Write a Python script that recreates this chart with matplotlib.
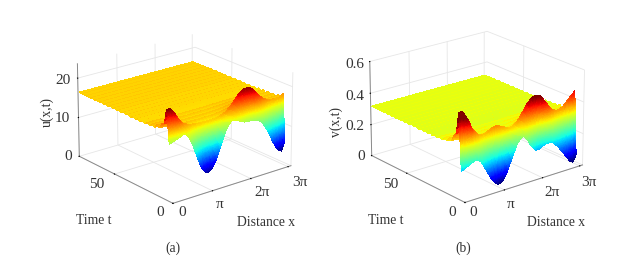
import numpy as np
import matplotlib
matplotlib.use('Agg')
import matplotlib.pyplot as plt

plt.rcParams['font.family'] = ['Liberation Serif', 'DejaVu Serif']
plt.rcParams['font.size'] = 11
plt.rcParams['grid.color'] = '#e6e6e6'
plt.rcParams['grid.linewidth'] = 0.6
plt.rcParams['axes.linewidth'] = 0.6

# x samples in units of pi, 1/12 apart
x_pi = np.arange(37) / 12

# panel a, front row (t first) and second row
u_first = [14.0, 14.3, 14.6, 14.9, 15.3, 15.3, 14.2, 12.2, 9.8, 7.4, 5.5, 4.5,
           4.2, 4.8, 6.2, 8.2, 10.6, 12.8, 14.4, 15.3, 15.2, 14.8, 14.4, 14.0,
           13.9, 13.9, 13.8, 13.5, 13.0, 12.0, 10.6, 8.9, 7.0, 5.4, 4.2, 3.8, 6.0]
u_second = [21.8, 21.7, 20.8, 19.4, 18.0, 17.2, 16.8, 16.5, 16.4, 16.3, 16.2, 16.2,
            16.2, 16.2, 16.2, 16.3, 16.5, 16.8, 17.2, 17.9, 18.8, 19.8, 20.8, 21.3,
            21.5, 21.4, 20.9, 20.0, 19.0, 18.1, 17.5, 17.1, 16.9, 16.8, 16.8, 16.9, 17.4]
u_flat = 16.5

# panel b
v_first = [0.18, 0.19, 0.20, 0.21, 0.22, 0.22, 0.20, 0.16, 0.12, 0.08, 0.05, 0.03,
           0.03, 0.05, 0.09, 0.14, 0.19, 0.24, 0.27, 0.28, 0.26, 0.22, 0.19, 0.17,
           0.17, 0.18, 0.19, 0.19, 0.19, 0.17, 0.15, 0.12, 0.09, 0.06, 0.03, 0.02, 0.06]
v_second = [0.52, 0.52, 0.49, 0.45, 0.40, 0.37, 0.35, 0.345, 0.35, 0.36, 0.37, 0.375,
            0.37, 0.36, 0.35, 0.34, 0.34, 0.35, 0.37, 0.40, 0.43, 0.46, 0.48, 0.49,
            0.49, 0.48, 0.45, 0.42, 0.39, 0.37, 0.36, 0.36, 0.37, 0.39, 0.41, 0.43, 0.45]
v_flat = 0.32

# times of the rows
t_rows = [3, 5, 7, 9, 11, 13, 15, 17, 19, 21, 23, 25, 27, 29, 31, 33, 35, 37, 39, 41,
          43, 45, 47, 49, 51, 53, 55, 57, 59, 61, 63, 65, 67, 69, 71, 73, 75, 77, 79, 81]
# how much of the second row is left, row by row after the first
relax = [1.0, 0.45, 0.25, 0.15, 0.10, 0.07, 0.05, 0.03, 0.02, 0.015, 0.01, 0.005, 0.0, 0.0,
         0.0, 0.0, 0.0, 0.0, 0.0, 0.0, 0.0, 0.0, 0.0, 0.0, 0.0, 0.0, 0.0, 0.0, 0.0, 0.0,
         0.0, 0.0, 0.0, 0.0, 0.0, 0.0, 0.0, 0.0, 0.0]
# zigzag of the rows, share of the z range
ripple = [0.0, 0.018, -0.018, 0.016, -0.016, 0.015, -0.015, 0.014, -0.014, 0.012, -0.012, 0.010, -0.010,
          0.008, -0.008, 0.007, -0.007, 0.006, -0.006, 0.006, -0.006, 0.005, -0.005, 0.005, -0.005,
          0.005, -0.005, 0.004, -0.004, 0.004, -0.004, 0.004, -0.004, 0.004, -0.004, 0.003, -0.003,
          0.003, -0.003, 0.003]

x_ticks = [0, 1, 2, 3]
t_ticks = [0, 50]
u_ticks = [0, 10, 20]
v_ticks = [0, 0.2, 0.4, 0.6]


def make_rows(first, second, flat, span):
    first = np.array(first)
    second = np.array(second)
    rows = [first]
    for i, r in enumerate(relax):
        rows.append(flat + r * (second - flat) + ripple[i + 1] * span)
    return np.array(rows)


def refine(rows):
    # same job as shading interp in the original plot
    t_fine = []
    for i in range(len(t_rows) - 1):
        n = 60 if i == 0 else (4 if i < 10 else 1)
        t_fine.extend(np.linspace(t_rows[i], t_rows[i + 1], n, endpoint=False))
    t_fine.append(t_rows[-1])
    t_fine = np.array(t_fine)
    x_fine = np.linspace(0, 3, 145)
    by_t = np.array([np.interp(t_fine, t_rows, rows[:, j]) for j in range(rows.shape[1])]).T
    z = np.array([np.interp(x_fine, x_pi, row) for row in by_t])
    return x_fine, t_fine, z


def draw(rect, first, second, flat, vmin, vmax, zlim, zticks, aspect):
    ax = fig.add_axes([rect[0] / 620, rect[1] / 267, 230 / 620, 230 / 267], projection='3d')
    ax.set_proj_type('persp', focal_length=1.6)
    rows = make_rows(first, second, flat, zlim[1])
    xf, tf, z = refine(rows)
    X, T = np.meshgrid(xf, tf)
    norm = plt.Normalize(vmin, vmax)
    colors = plt.cm.jet(norm(z))
    ax.plot_surface(X, T, z, facecolors=colors, rstride=1, cstride=1, shade=False,
                    linewidth=0, antialiased=False)
    ax.set_xlim(0, 3.08, view_margin=0)
    ax.set_ylim(0, 82, view_margin=0)
    ax.set_zlim(zlim[0], zlim[1], view_margin=0)
    ax.set_box_aspect(aspect)
    ax.view_init(elev=21, azim=-128.7)
    # tick text goes on by hand below, mplot3d puts it too far out
    ax.set_xticks(x_ticks)
    ax.set_xticklabels([])
    ax.set_yticks(t_ticks)
    ax.set_yticklabels([])
    ax.set_zticks(zticks)
    ax.set_zticklabels([])
    for a in (ax.xaxis, ax.yaxis, ax.zaxis):
        a.set_pane_color((1, 1, 1, 0))
        a.pane.set_edgecolor('#e2e2e2')
        a.line.set_color('#8a8a8a')
        a.line.set_linewidth(0.7)
        a._axinfo['tick']['inward_factor'] = 0.02
        a._axinfo['tick']['outward_factor'] = 0.0
        a._axinfo['tick']['color'] = '#9a9a9a'
    ax.patch.set_alpha(0)
    return ax


fig = plt.figure(figsize=(6.2, 2.67), dpi=100)
draw((66.4, 34), u_first, u_second, u_flat, 3.8, 22.2, (0, 23.6), u_ticks, (455, 461, 300))
draw((358.4, 35.5), v_first, v_second, v_flat, 0.03, 0.49, (0, 0.6), v_ticks, (455, 461, 306))


def label(px, py, s, size=9.8, **kw):
    fig.text(px / 620, 1 - py / 267, s, ha='center', va='center', color='#333333', fontsize=size, **kw)


for px, py, s in [(63, 80, '20'), (62, 118, '10'), (68, 157, '0'), (97, 185, '50'), (160, 212, '0'),
                  (182, 213, '0'), (220, 204, 'π'), (262, 193, '2π'), (300, 183, '3π'),
                  (355, 64, '0.6'), (355, 96, '0.4'), (355, 127, '0.2'), (361, 157, '0'), (391, 185, '50'),
                  (452, 212, '0'), (473, 213, '0'), (511, 204, 'π'), (552, 193, '2π'), (589, 183, '3π')]:
    label(px, py, s, size=11)

label(94, 220, 'Time t')
label(266, 222, 'Distance x')
label(173, 248, '(a)')
label(47, 112, 'u(x,t)', rotation=90)
label(386, 220, 'Time t')
label(556, 222, 'Distance x')
label(463, 248, '(b)')
label(336, 122, 'v(x,t)', rotation=90)

fig.savefig('out.png', dpi=100)
